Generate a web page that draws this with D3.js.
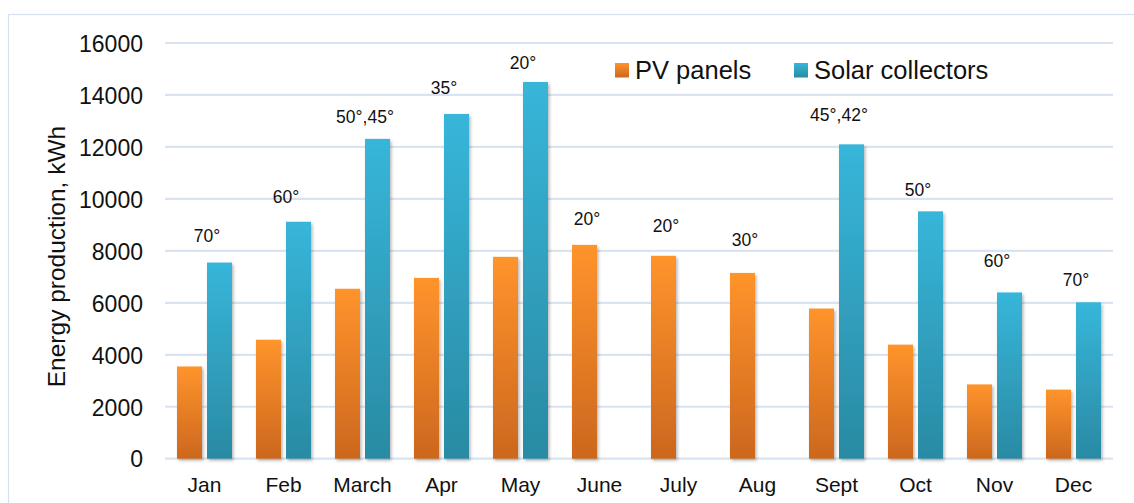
<!DOCTYPE html>
<html>
<head>
<meta charset="utf-8">
<script src="https://cdn.jsdelivr.net/npm/d3@7"></script>
<style>
  html, body { margin: 0; padding: 0; background: #fff; }
  svg { display: block; font-family: Arial, "Liberation Sans", sans-serif; }
</style>
</head>
<body>
<div id="chart"></div>
<script>
// months on the x axis
const months = ["Jan", "Feb", "March", "Apr", "May", "June", "July", "Aug", "Sept", "Oct", "Nov", "Dec"]
const seriesNames = ["PV panels", "Solar collectors"]

// kWh per month (null = no bar)
const pvPanels = [3550, 4580, 6540, 6960, 7770, 8230, 7810, 7150, 5780, 4390, 2860, 2660]
const solarCollectors = [7550, 9120, 12310, 13270, 14500, null, null, null, 12100, 9520, 6400, 6020]

// tilt angle notes and the kWh level each note sits at
const angleLabels = ["70°", "60°", "50°,45°", "35°", "20°", "20°", "20°", "30°", "45°,42°", "50°", "60°", "70°"]
const angleLevel = [8330, 9830, 12910, 14020, 14990, 8990, 8720, 8180, 13000, 10110, 7370, 6640]

const yTicks = [0, 2000, 4000, 6000, 8000, 10000, 12000, 14000, 16000]

const width = 1134, height = 503
const margin = {top: 43, right: 21, bottom: 44, left: 165}

const svg = d3.select("#chart").append("svg")
  .attr("width", width)
  .attr("height", height)

const defs = svg.append("defs")

const grads = [
  {id: "gOrange", top: "#ff942c", bottom: "#cc671e"},
  {id: "gBlue", top: "#37b6da", bottom: "#2a8aa3"}
]
grads.forEach(g => {
  const lg = defs.append("linearGradient").attr("id", g.id)
    .attr("x1", 0).attr("y1", 0).attr("x2", 0).attr("y2", 1)
  lg.append("stop").attr("offset", "0%").attr("stop-color", g.top)
  lg.append("stop").attr("offset", "100%").attr("stop-color", g.bottom)
})

// little shadow under the bars
defs.append("filter").attr("id", "shadow")
  .attr("x", "-30%").attr("y", "-10%").attr("width", "160%").attr("height", "130%")
  .append("feDropShadow")
  .attr("dx", 1.5).attr("dy", 2).attr("stdDeviation", 1.6)
  .attr("flood-color", "#000").attr("flood-opacity", 0.28)

// outer frame
svg.append("rect")
  .attr("x", 8.5).attr("y", 14.5)
  .attr("width", width + 20).attr("height", height + 20)
  .attr("fill", "none")
  .attr("stroke", "#d5e1f0")
  .attr("stroke-width", 1.2)

const x0 = d3.scaleBand()
  .domain(months)
  .range([margin.left, width - margin.right])

const groupW = 55
const x1 = d3.scaleBand()
  .domain(seriesNames)
  .range([0, groupW])
  .paddingInner(1 - 25 / 30)

const y = d3.scaleLinear()
  .domain([0, 16000])
  .range([height - margin.bottom - 0.3, margin.top])

// grid
svg.append("g")
  .selectAll("line")
  .data(yTicks)
  .join("line")
  .attr("x1", margin.left)
  .attr("x2", width - margin.right)
  .attr("y1", d => y(d))
  .attr("y2", d => y(d))
  .attr("stroke", "#d9e4f2")
  .attr("stroke-width", 2.2)

// y axis labels
const yAxis = d3.axisLeft(y).tickValues(yTicks).tickSize(0).tickPadding(0).tickFormat(d3.format("d"))
svg.append("g")
  .attr("transform", `translate(143,0)`)
  .call(yAxis)
  .call(g => g.select(".domain").remove())
  .call(g => g.selectAll("text")
    .attr("font-size", 23)
    .attr("font-family", "Arial, 'Liberation Sans', sans-serif")
    .attr("fill", "#111")
    .attr("dy", "0.36em"))

// x axis labels
const xAxis = d3.axisBottom(x0).tickSize(0).tickPadding(0)
svg.append("g")
  .attr("transform", `translate(0,${height - margin.bottom})`)
  .call(xAxis)
  .call(g => g.select(".domain").remove())
  .call(g => g.selectAll("text")
    .attr("font-size", 21)
    .attr("font-family", "Arial, 'Liberation Sans', sans-serif")
    .attr("fill", "#111")
    .attr("dy", null)
    .attr("y", 33))

// y title
svg.append("text")
  .attr("transform", `translate(64.5,${(125 + 388) / 2}) rotate(-90)`)
  .attr("text-anchor", "middle")
  .attr("font-size", 24.5)
  .attr("fill", "#111")
  .text("Energy production, kWh")

const rows = months.map((m, i) => ({month: m, vals: [pvPanels[i], solarCollectors[i]]}))
const offset = (x0.bandwidth() - groupW) / 2

const groups = svg.append("g").selectAll("g")
  .data(rows)
  .join("g")
  .attr("transform", d => `translate(${x0(d.month) + offset},0)`)

groups.selectAll("rect")
  .data(d => d.vals.map((v, k) => ({name: seriesNames[k], value: v})).filter(e => e.value != null))
  .join("rect")
  .attr("x", d => x1(d.name))
  .attr("width", x1.bandwidth())
  .attr("y", d => y(d.value))
  .attr("height", d => y(0) - y(d.value))
  .attr("fill", d => d.name === seriesNames[0] ? "url(#gOrange)" : "url(#gBlue)")
  .attr("filter", "url(#shadow)")

// angle notes
svg.append("g").selectAll("text")
  .data(rows)
  .join("text")
  .attr("x", (d, i) => {
    const start = x0(d.month) + offset
    const end = solarCollectors[i] == null ? start + x1.bandwidth() : start + groupW
    return (start + end) / 2 + 2.5
  })
  .attr("y", (d, i) => y(angleLevel[i]))
  .attr("text-anchor", "middle")
  .attr("font-size", 17.5)
  .attr("fill", "#111")
  .text((d, i) => angleLabels[i])

// legend
const legend = svg.append("g")
const legendX = [615, 794]
seriesNames.forEach((n, k) => {
  legend.append("rect")
    .attr("x", legendX[k]).attr("y", 63)
    .attr("width", 14).attr("height", 14.5)
    .attr("fill", k === 0 ? "url(#gOrange)" : "url(#gBlue)")
  legend.append("text")
    .attr("x", legendX[k] + 20).attr("y", 78.5)
    .attr("font-size", 25.5)
    .attr("fill", "#111")
    .text(n)
})
</script>
</body>
</html>
